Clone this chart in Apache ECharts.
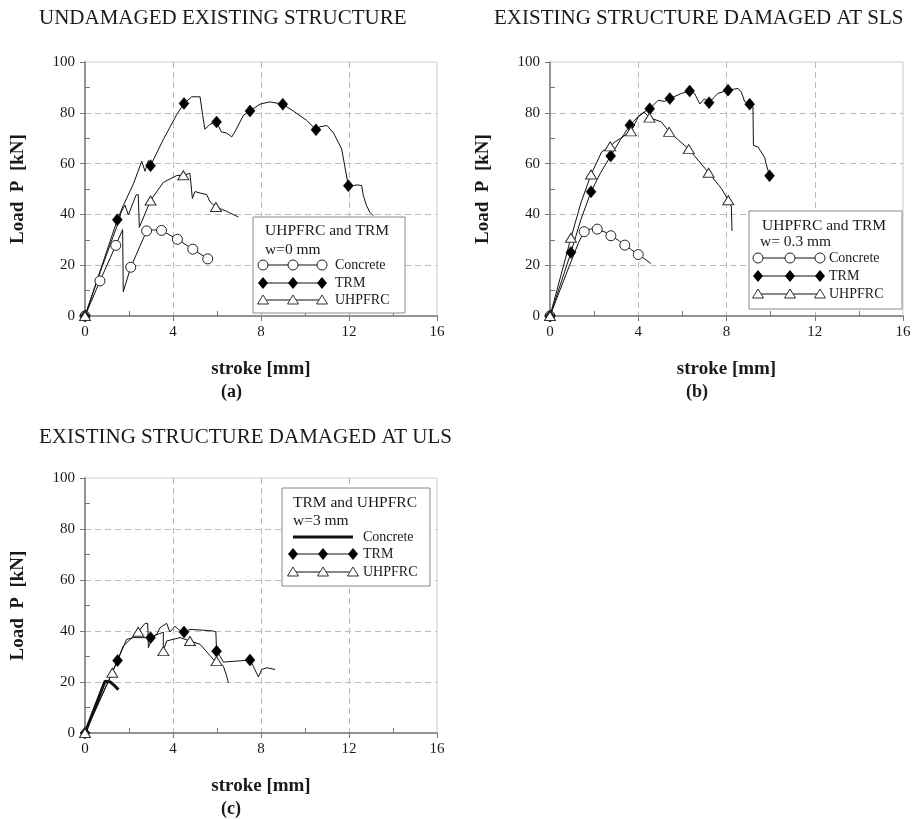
<!DOCTYPE html>
<html lang="en">
<head>
<meta charset="UTF-8">
<title>Load - stroke curves</title>
<script src="https://cdn.jsdelivr.net/npm/echarts@6.0.0/dist/echarts.min.js"></script>
<style>
  html, body { margin: 0; padding: 0; background: #fff; }
  #chart { width: 918px; height: 819px; }
</style>
</head>
<body>
<div id="chart"></div>
<script>
// stroke [mm], load [kN]
const xMajor = [0, 4, 8, 12, 16];
const xMinor = [2, 6, 10, 14];
const yMinor = [10, 30, 50, 70, 90];

// (a) undamaged
const concreteA = [[0,0],[0.68,13.8],[1.4,27.8],[1.71,34],[1.74,9.6],[2.08,19.2],[2.8,33.5],[3.1,33.9],[3.48,33.7],[4.2,30.2],[4.9,26.3],[5.58,22.5],[5.76,21.5]];
const concreteAMarks = [[0,0],[0.68,13.8],[1.4,27.8],[2.08,19.2],[2.8,33.5],[3.48,33.7],[4.2,30.2],[4.9,26.3],[5.58,22.5]];
const trmA = [[0,0],[1.47,37.9],[1.74,43.5],[2.2,52],[2.58,60.9],[2.73,57],[2.88,61.2],[2.98,59.2],[3.56,69.5],[4.17,79.3],[4.5,83.7],[4.85,86.3],[5.23,86.3],[5.35,79],[5.45,73.5],[5.68,75.5],[5.98,76.4],[6.2,72.5],[6.44,72],[6.67,70.5],[6.82,72.6],[7.2,79],[7.5,80.7],[7.95,83.4],[8.4,84.3],[8.99,83.4],[9.47,80.7],[10.08,77],[10.5,73.3],[10.68,74.5],[11.0,75],[11.3,72],[11.67,65.7],[11.82,58.4],[11.97,51.3],[12.2,51.4],[12.42,51.6],[12.58,51.3],[12.65,47.4],[12.8,43.4],[12.95,40.8],[13.1,39.5]];
const trmAMarks = [[0,0],[1.47,37.9],[2.98,59.2],[4.5,83.7],[5.98,76.4],[7.5,80.7],[8.99,83.4],[10.5,73.3],[11.97,51.3]];
const uhpfrcA = [[0,0],[0.7,17.5],[1.5,36.5],[1.65,41],[1.82,43.7],[1.97,39.8],[2.32,47.6],[2.42,47.8],[2.47,34.9],[2.98,45.5],[3.56,52.6],[4.17,55.3],[4.47,55.4],[4.77,56.2],[4.85,55.9],[4.88,46.3],[5.0,49],[5.23,48.4],[5.53,47.8],[5.68,45],[5.95,42.9],[6.44,41.2],[6.97,39]];
const uhpfrcAMarks = [[0,0],[2.98,45.5],[4.47,55.4],[5.95,42.9]];

// (b) damaged at SLS
const concreteB = [[0,0],[0.8,18],[1.3,29],[1.55,33.2],[1.85,34.3],[2.14,34.2],[2.5,33],[2.76,31.6],[3.1,29.8],[3.39,27.9],[3.7,26],[4.0,24.2],[4.3,22.4],[4.57,20.7]];
const concreteBMarks = [[0,0],[1.55,33.2],[2.14,34.2],[2.76,31.6],[3.39,27.9],[4.0,24.2]];
const trmB = [[0,0],[0.95,25],[1.4,38],[1.86,48.9],[2.3,56.5],[2.75,63],[3.2,69.5],[3.62,75.1],[4.0,78.6],[4.3,80.5],[4.52,81.6],[4.9,84.9],[5.2,84.5],[5.43,85.6],[5.95,87.6],[6.33,88.6],[6.56,87.5],[6.79,83.5],[7.0,85.5],[7.21,84],[7.6,87.6],[8.07,88.9],[8.52,89.6],[8.67,88.2],[8.82,84.5],[9.05,83.4],[9.2,82.3],[9.22,67.2],[9.43,66.5],[9.73,62.4],[9.8,59.8],[9.95,55.2]];
const trmBMarks = [[0,0],[0.95,25],[1.86,48.9],[2.75,63],[3.62,75.1],[4.52,81.6],[5.43,85.6],[6.33,88.6],[7.21,84],[8.07,88.9],[9.05,83.4],[9.95,55.2]];
const uhpfrcB = [[0,0],[0.95,30.8],[1.4,44.5],[1.86,55.7],[2.34,64.6],[2.73,66.8],[2.94,68.5],[3.2,70],[3.67,72.7],[4.0,78.4],[4.27,80.3],[4.51,78.1],[5.05,76.4],[5.4,72.5],[6.29,65.7],[7.19,56.4],[7.77,50.2],[8.08,45.6],[8.22,43],[8.25,33.5]];
const uhpfrcBMarks = [[0,0],[0.95,30.8],[1.86,55.7],[2.73,66.8],[3.67,72.7],[4.51,78.1],[5.4,72.5],[6.29,65.7],[7.19,56.4],[8.08,45.6]];

// (c) damaged at ULS
const concreteC = [[0,0],[0.91,20.3],[0.98,21],[1.15,20],[1.29,19],[1.52,17]];
const trmC = [[0,0],[1.48,28.4],[1.89,36.7],[2.2,37.4],[2.98,37.4],[3.26,38.7],[3.41,41.3],[3.71,43],[3.86,39.6],[4.09,41.9],[4.24,40.6],[4.5,39.6],[4.77,40.6],[5.23,40.4],[5.83,40],[5.95,39.6],[5.98,32.1],[6.14,30.1],[6.29,27.8],[6.89,28.2],[7.5,28.6],[7.65,26.2],[7.88,22],[8.03,24.9],[8.26,25.6],[8.64,24.9]];
const trmCMarks = [[0,0],[1.48,28.4],[2.98,37.4],[4.5,39.6],[5.98,32.1],[7.5,28.6]];
const uhpfrcC = [[0,0],[1.24,23.6],[1.74,34.1],[2.42,39.7],[2.73,43],[2.85,43],[2.88,33.5],[3.1,38],[3.4,39],[3.56,39.5],[3.56,32.1],[3.71,36.1],[4.32,37.4],[4.77,36.1],[5.23,34.8],[5.83,28.9],[5.98,28.2],[6.29,26.2],[6.44,22.3],[6.52,19.7]];
const uhpfrcCMarks = [[0,0],[1.24,23.6],[2.42,39.7],[3.56,32.1],[4.77,36.1],[5.98,28.2]];

const serif = '"Liberation Serif", "Times New Roman", serif';
const ink = '#1a1a1a';

const grids = [
    {left: 85, top: 62, width: 352, height: 254},
    {left: 550, top: 62, width: 353, height: 254},
    {left: 85, top: 478, width: 352, height: 255}
];

function xAxes(g) {
    return [{
        type: 'value', gridIndex: g, min: 0, max: 16, interval: 4,
        name: 'stroke [mm]', nameLocation: 'middle', nameGap: 44,
        nameTextStyle: {fontFamily: serif, fontWeight: 'bold', fontSize: 19, color: ink},
        axisLine: {onZero: false, lineStyle: {color: '#777', width: 1.5}},
        axisTick: {inside: false, length: 5, lineStyle: {color: '#777'}},
        axisLabel: {color: ink, fontFamily: serif, fontSize: 15, margin: 9},
        splitLine: {show: true, showMinLine: false, showMaxLine: false, lineStyle: {color: '#bbb', type: [6, 4]}}
    }, {
        type: 'value', gridIndex: g, min: 0, max: 16, position: 'bottom',
        axisLine: {show: false},
        axisTick: {inside: true, length: 5, customValues: xMinor, lineStyle: {color: '#777'}},
        axisLabel: {show: false},
        splitLine: {show: false}
    }];
}

function yAxes(g) {
    return [{
        type: 'value', gridIndex: g, min: 0, max: 100, interval: 20,
        name: 'Load  P  [kN]', nameLocation: 'middle', nameGap: 57, nameRotate: 90,
        nameTextStyle: {fontFamily: serif, fontWeight: 'bold', fontSize: 19, color: ink},
        axisLine: {onZero: false, lineStyle: {color: '#777', width: 1.5}},
        axisTick: {inside: false, length: 5, lineStyle: {color: '#777'}},
        axisLabel: {color: ink, fontFamily: serif, fontSize: 15, margin: 10},
        splitLine: {show: true, showMinLine: false, showMaxLine: false, lineStyle: {color: '#bbb', type: [6, 4]}}
    }, {
        type: 'value', gridIndex: g, min: 0, max: 100, position: 'left',
        axisLine: {show: false},
        axisTick: {inside: true, length: 5, customValues: yMinor, lineStyle: {color: '#777'}},
        axisLabel: {show: false},
        splitLine: {show: false}
    }];
}

function curve(data, g, width) {
    return {
        type: 'line', data: data, xAxisIndex: g * 2, yAxisIndex: g * 2,
        symbol: 'none', smooth: false, animation: false,
        lineStyle: {color: '#111', width: width || 1}
    };
}

const markStyles = {
    circle: {symbol: 'circle', symbolSize: 10, itemStyle: {color: '#fff', borderColor: '#222', borderWidth: 1, opacity: 1}},
    diamond: {symbol: 'diamond', symbolSize: [10, 12], itemStyle: {color: '#000', borderColor: '#000', borderWidth: 0.5, opacity: 1}},
    triangle: {symbol: 'triangle', symbolSize: [11, 9], itemStyle: {color: '#fff', borderColor: '#333', borderWidth: 1, opacity: 1}}
};

function marks(data, g, kind) {
    return Object.assign({
        type: 'scatter', data: data, xAxisIndex: g * 2, yAxisIndex: g * 2,
        animation: false, z: 3
    }, markStyles[kind]);
}

// legend boxes are drawn by hand: three markers on each sample line
function legendBox(box, head, rows) {
    const els = [{
        type: 'rect', shape: {x: box.x, y: box.y, width: box.w, height: box.h},
        style: {fill: '#fff', stroke: '#888', lineWidth: 1}, z: 10
    }];
    head.forEach(h => els.push({
        type: 'text', x: h.x, y: h.y, z: 11,
        style: {text: h.text, font: '15.5px ' + serif, fill: ink, textVerticalAlign: 'middle'}
    }));
    rows.forEach(r => {
        const xs = box.mx;
        els.push({
            type: 'line', shape: {x1: xs[0], y1: r.y, x2: xs[2], y2: r.y}, z: 11,
            style: {stroke: '#111', lineWidth: r.kind === 'thick' ? 3 : 1}
        });
        if (r.kind !== 'thick') {
            xs.forEach(cx => {
                if (r.kind === 'circle') {
                    els.push({type: 'circle', shape: {cx: cx, cy: r.y, r: 5}, z: 12,
                        style: {fill: '#fff', stroke: '#222', lineWidth: 1}});
                } else if (r.kind === 'diamond') {
                    els.push({type: 'polygon', shape: {points: [[cx, r.y - 6], [cx + 5, r.y], [cx, r.y + 6], [cx - 5, r.y]]}, z: 12,
                        style: {fill: '#000'}});
                } else {
                    els.push({type: 'polygon', shape: {points: [[cx, r.y - 5], [cx + 5.5, r.y + 4], [cx - 5.5, r.y + 4]]}, z: 12,
                        style: {fill: '#fff', stroke: '#333', lineWidth: 1}});
                }
            });
        }
        els.push({
            type: 'text', x: box.tx, y: r.y, z: 11,
            style: {text: r.text, font: '14px ' + serif, fill: ink, textVerticalAlign: 'middle'}
        });
    });
    return els;
}

const legendA = legendBox(
    {x: 253, y: 217, w: 152, h: 96, mx: [263, 293, 322], tx: 335},
    [{text: 'UHPFRC and TRM', x: 265, y: 231}, {text: 'w=0 mm', x: 265, y: 250}],
    [{kind: 'circle', text: 'Concrete', y: 265}, {kind: 'diamond', text: 'TRM', y: 283}, {kind: 'triangle', text: 'UHPFRC', y: 300}]
);
const legendB = legendBox(
    {x: 749, y: 211, w: 153, h: 98, mx: [758, 790, 820], tx: 829},
    [{text: 'UHPFRC and TRM', x: 762, y: 226}, {text: 'w= 0.3 mm', x: 760, y: 242}],
    [{kind: 'circle', text: 'Concrete', y: 258}, {kind: 'diamond', text: 'TRM', y: 276}, {kind: 'triangle', text: 'UHPFRC', y: 294}]
);
const legendC = legendBox(
    {x: 282, y: 488, w: 148, h: 98, mx: [293, 323, 353], tx: 363},
    [{text: 'TRM and UHPFRC', x: 293, y: 503}, {text: 'w=3 mm', x: 293, y: 521}],
    [{kind: 'thick', text: 'Concrete', y: 537}, {kind: 'diamond', text: 'TRM', y: 554}, {kind: 'triangle', text: 'UHPFRC', y: 572}]
);

function heading(text, left, top) {
    return {text: text, left: left, top: top, padding: 0,
        textStyle: {fontFamily: serif, fontSize: 21, fontWeight: 'normal', color: ink}};
}
function tag(text, left, top) {
    return {text: text, left: left, top: top, padding: 0,
        textStyle: {fontFamily: serif, fontSize: 18, fontWeight: 'bold', color: ink}};
}

const chart = echarts.init(document.getElementById('chart'), null, {renderer: 'canvas'});
chart.setOption({
    backgroundColor: '#fff',
    animation: false,
    title: [
        heading('UNDAMAGED EXISTING STRUCTURE', 39, 8),
        heading('EXISTING STRUCTURE DAMAGED AT SLS', 494, 8),
        heading('EXISTING STRUCTURE DAMAGED AT ULS', 39, 427),
        tag('(a)', 221, 383),
        tag('(b)', 686, 383),
        tag('(c)', 221, 800)
    ],
    grid: grids.map(g => Object.assign({show: true, borderColor: '#ccc', borderWidth: 1, containLabel: false}, g)),
    xAxis: [].concat(xAxes(0), xAxes(1), xAxes(2)),
    yAxis: [].concat(yAxes(0), yAxes(1), yAxes(2)),
    series: [
        curve(concreteA, 0), curve(trmA, 0), curve(uhpfrcA, 0),
        marks(concreteAMarks, 0, 'circle'), marks(trmAMarks, 0, 'diamond'), marks(uhpfrcAMarks, 0, 'triangle'),
        curve(concreteB, 1), curve(trmB, 1), curve(uhpfrcB, 1),
        marks(concreteBMarks, 1, 'circle'), marks(trmBMarks, 1, 'diamond'), marks(uhpfrcBMarks, 1, 'triangle'),
        curve(trmC, 2), curve(uhpfrcC, 2), curve(concreteC, 2, 3),
        marks(trmCMarks, 2, 'diamond'), marks(uhpfrcCMarks, 2, 'triangle')
    ],
    graphic: [].concat(legendA, legendB, legendC)
});
</script>
</body>
</html>
